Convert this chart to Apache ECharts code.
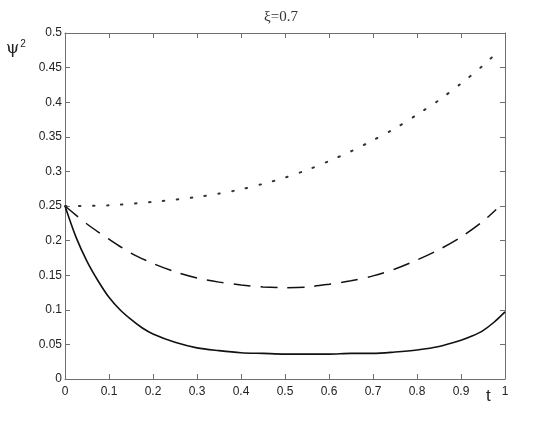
<!DOCTYPE html>
<html lang="en">
<head>
    <meta charset="UTF-8">
    <title>xi=0.7</title>
    <script src="https://cdn.jsdelivr.net/npm/echarts@6/dist/echarts.min.js"></script>
    <style type="text/css">
        html, body { margin: 0; padding: 0; background: #fff; }
        #main { width: 545px; height: 424px; }
    </style>
</head>
<body>
    <div id="main"></div>
    <script type="text/javascript">
    // t 轴上的取样点
    var tSolid = [0, 0.025, 0.05, 0.075, 0.1, 0.125, 0.15, 0.175, 0.2, 0.25, 0.3, 0.35, 0.4, 0.45, 0.5,
        0.55, 0.6, 0.65, 0.7, 0.75, 0.8, 0.85, 0.9, 0.925, 0.95, 0.975, 1];
    var psiSolid = [0.25, 0.205, 0.17, 0.142, 0.118, 0.1, 0.086, 0.074, 0.065, 0.053, 0.045, 0.041, 0.038, 0.037, 0.036,
        0.036, 0.036, 0.037, 0.037, 0.039, 0.042, 0.047, 0.056, 0.062, 0.07, 0.082, 0.097];

    var tDashed = [0, 0.05, 0.1, 0.15, 0.2, 0.25, 0.3, 0.35, 0.4, 0.45, 0.5, 0.55, 0.6, 0.65, 0.7,
        0.75, 0.8, 0.85, 0.9, 0.95, 0.98];
    var psiDashed = [0.25, 0.224, 0.202, 0.182, 0.167, 0.155, 0.146, 0.14, 0.136, 0.133, 0.132, 0.133, 0.137, 0.142, 0.149,
        0.159, 0.172, 0.187, 0.205, 0.228, 0.245];

    var tDotted = [0, 0.1, 0.2, 0.3, 0.35, 0.4, 0.45, 0.5, 0.55, 0.6, 0.65, 0.7, 0.75, 0.8, 0.85, 0.9, 0.95, 0.99];
    var psiDotted = [0.25, 0.251, 0.256, 0.263, 0.268, 0.274, 0.282, 0.291, 0.302, 0.315, 0.329, 0.345, 0.362, 0.382, 0.403, 0.427, 0.453, 0.477];

    var xTicks = [0, 1, 0.1];
    var yTicks = [0, 0.5, 0.05];

    function pairs(xs, ys) {
        var out = [];
        for (var i = 0; i < xs.length; i++) {
            out.push([xs[i], ys[i]]);
        }
        return out;
    }

    var myChart = echarts.init(document.getElementById('main'));

    var axisColor = '#6e6e6e';
    var labelStyle = { color: '#222', fontFamily: 'Liberation Sans', fontSize: 12 };

    function xAxisDef(pos, showLabel) {
        return {
            type: 'value', position: pos, min: xTicks[0], max: xTicks[1], interval: xTicks[2],
            axisLine: { show: true, onZero: false, lineStyle: { color: axisColor, width: 1 } },
            axisTick: { show: true, inside: true, length: 5, lineStyle: { color: axisColor } },
            axisLabel: Object.assign({ show: showLabel, margin: 7 }, labelStyle),
            splitLine: { show: false }
        };
    }

    function yAxisDef(pos, showLabel) {
        return {
            type: 'value', position: pos, min: yTicks[0], max: yTicks[1], interval: yTicks[2],
            axisLine: { show: true, onZero: false, lineStyle: { color: axisColor, width: 1 } },
            axisTick: { show: true, inside: true, length: 5, lineStyle: { color: axisColor } },
            axisLabel: Object.assign({ show: showLabel, margin: 3 }, labelStyle),
            splitLine: { show: false }
        };
    }

    var option = {
        backgroundColor: '#fff',
        animation: false,
        title: {
            text: 'ξ=0.7',
            left: 259,
            top: 5,
            textStyle: { fontFamily: 'Liberation Serif', fontSize: 15, fontWeight: 'normal', color: '#333' }
        },
        grid: { left: 65, right: 40, top: 33, bottom: 45 },
        xAxis: [xAxisDef('bottom', true), xAxisDef('top', false)],
        yAxis: [yAxisDef('left', true), yAxisDef('right', false)],
        graphic: [{
            type: 'text', left: 6, top: 39,
            style: {
                text: '{a|ψ}{b|2}',
                rich: {
                    a: { fontFamily: 'DejaVu Serif', fontSize: 17, fill: '#222' },
                    b: { fontFamily: 'Liberation Sans', fontSize: 10, fill: '#222', verticalAlign: 'top', padding: [0, 0, 10, 1] }
                }
            }
        }, {
            type: 'text', left: 486, top: 388,
            style: { text: 't', fontFamily: 'Liberation Sans', fontSize: 17, fill: '#222' }
        }],
        series: [{
            name: 'solid', type: 'line', showSymbol: false, smooth: 0.3,
            data: pairs(tSolid, psiSolid),
            lineStyle: { color: '#111', width: 1.6 }
        }, {
            name: 'dashed', type: 'line', showSymbol: false, smooth: 0.3,
            data: pairs(tDashed, psiDashed),
            lineStyle: { color: '#111', width: 1.5, type: [17, 10] }
        }, {
            name: 'dotted', type: 'line', showSymbol: false, smooth: 0.3,
            data: pairs(tDotted, psiDotted),
            lineStyle: { color: '#333', width: 2, type: [1.5, 12.5], cap: 'round' }
        }]
    };

    myChart.setOption(option);
    </script>
</body>
</html>
